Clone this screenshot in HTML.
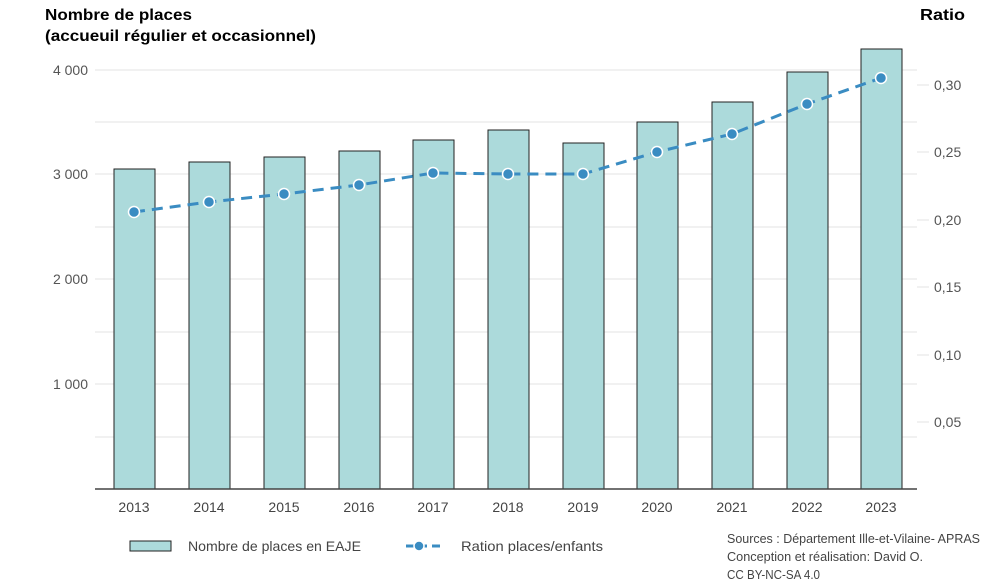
<!DOCTYPE html>
<html><head><meta charset="utf-8"><style>body{margin:0;background:#fff}svg{display:block;font-family:"Liberation Sans",sans-serif}</style></head><body>
<svg width="1000" height="584" viewBox="0 0 1000 584">
<g stroke="#e3e3e3" stroke-width="1">
<line x1="95" x2="917" y1="70" y2="70"/><line x1="95" x2="917" y1="122" y2="122"/><line x1="95" x2="917" y1="174" y2="174"/><line x1="95" x2="917" y1="227" y2="227"/><line x1="95" x2="917" y1="279" y2="279"/><line x1="95" x2="917" y1="332" y2="332"/><line x1="95" x2="917" y1="384" y2="384"/><line x1="95" x2="917" y1="437" y2="437"/>
<line x1="917" x2="929" y1="85" y2="85"/><line x1="917" x2="929" y1="152" y2="152"/><line x1="917" x2="929" y1="220" y2="220"/><line x1="917" x2="929" y1="287" y2="287"/><line x1="917" x2="929" y1="355" y2="355"/><line x1="917" x2="929" y1="422" y2="422"/>
</g>
<g fill="#555" font-size="14" text-anchor="end">
<text x="88" y="75">4 000</text><text x="88" y="179">3 000</text><text x="88" y="284">2 000</text><text x="88" y="389">1 000</text>
</g>
<g fill="#555" font-size="14">
<text x="934" y="90">0,30</text><text x="934" y="157">0,25</text><text x="934" y="225">0,20</text><text x="934" y="292">0,15</text><text x="934" y="360">0,10</text><text x="934" y="427">0,05</text>
</g>
<g fill="#000" font-size="16" font-weight="bold">
<text x="45" y="20" textLength="147" lengthAdjust="spacingAndGlyphs">Nombre de places</text><text x="45" y="41" textLength="271" lengthAdjust="spacingAndGlyphs">(accueuil régulier et occasionnel)</text>
<text x="920" y="20" textLength="45" lengthAdjust="spacingAndGlyphs">Ratio</text>
</g>
<g fill="#acdadb" stroke="#222" stroke-width="1">
<rect x="114" y="169" width="41" height="320"/><rect x="189" y="162" width="41" height="327"/><rect x="264" y="157" width="41" height="332"/><rect x="339" y="151" width="41" height="338"/><rect x="413" y="140" width="41" height="349"/><rect x="488" y="130" width="41" height="359"/><rect x="563" y="143" width="41" height="346"/><rect x="637" y="122" width="41" height="367"/><rect x="712" y="102" width="41" height="387"/><rect x="787" y="72" width="41" height="417"/><rect x="861" y="49" width="41" height="440"/>
</g>
<line x1="95" x2="917" y1="489" y2="489" stroke="#444" stroke-width="1.5"/>
<polyline points="134,212 209,202 284,194 359,185 433,173 508,174 583,174 657,152 732,134 807,104 881,78" fill="none" stroke="#3a8cc2" stroke-width="3" stroke-dasharray="11,7"/>
<g fill="#3a8cc2" stroke="#fff" stroke-width="1.5">
<circle cx="134" cy="212" r="5.5"/><circle cx="209" cy="202" r="5.5"/><circle cx="284" cy="194" r="5.5"/><circle cx="359" cy="185" r="5.5"/><circle cx="433" cy="173" r="5.5"/><circle cx="508" cy="174" r="5.5"/><circle cx="583" cy="174" r="5.5"/><circle cx="657" cy="152" r="5.5"/><circle cx="732" cy="134" r="5.5"/><circle cx="807" cy="104" r="5.5"/><circle cx="881" cy="78" r="5.5"/>
</g>
<g fill="#444" font-size="14" text-anchor="middle">
<text x="134" y="512">2013</text><text x="209" y="512">2014</text><text x="284" y="512">2015</text><text x="359" y="512">2016</text><text x="433" y="512">2017</text><text x="508" y="512">2018</text><text x="583" y="512">2019</text><text x="657" y="512">2020</text><text x="732" y="512">2021</text><text x="807" y="512">2022</text><text x="881" y="512">2023</text>
</g>
<rect x="130" y="541" width="41" height="10" fill="#acdadb" stroke="#222"/>
<text x="188" y="551" font-size="14" fill="#444" textLength="173" lengthAdjust="spacingAndGlyphs">Nombre de places en EAJE</text>
<line x1="406" x2="440" y1="546" y2="546" stroke="#3a8cc2" stroke-width="3" stroke-dasharray="8,5"/>
<circle cx="419" cy="546" r="5" fill="#3a8cc2" stroke="#fff" stroke-width="1.5"/>
<text x="461" y="551" font-size="14" fill="#444" textLength="142" lengthAdjust="spacingAndGlyphs">Ration places/enfants</text>
<g fill="#444" font-size="13">
<text x="727" y="543" textLength="253" lengthAdjust="spacingAndGlyphs">Sources : Département Ille-et-Vilaine- APRAS</text>
<text x="727" y="561" textLength="196" lengthAdjust="spacingAndGlyphs">Conception et réalisation: David O.</text>
<text x="727" y="579" textLength="93" lengthAdjust="spacingAndGlyphs">CC BY-NC-SA 4.0</text>
</g>
</svg>
</body></html>
